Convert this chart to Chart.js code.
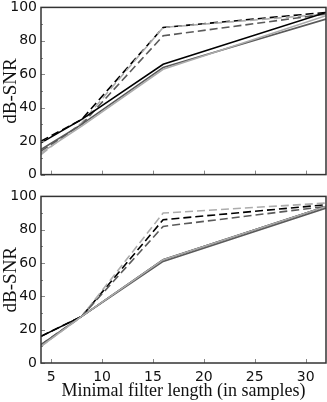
<!DOCTYPE html>
<html>
<head>
<meta charset="utf-8">
<script src="https://cdn.jsdelivr.net/npm/chart.js@4/dist/chart.umd.min.js"></script>
<style>
  html, body { margin: 0; padding: 0; background: #fff; }
  body { width: 327px; height: 402px; position: relative; overflow: hidden; }
  .box { position: absolute; left: 0; width: 327px; }
</style>
</head>
<body>
<div class="box" id="topBox" style="top:-5px;height:192px"><canvas id="topChart"></canvas></div>
<div class="box" id="botBox" style="top:184px;height:218px"><canvas id="botChart"></canvas></div>
<script>
// filter lengths (x)
var lengths = [4, 8, 16, 32];
var xTicks = [5, 10, 15, 20, 25, 30];
var yTicks = [0, 20, 40, 60, 80, 100];
var yMinor = [10, 30, 50, 70, 90];

// top panel
var topSolidBlack = [19, 33, 66, 97];
var topSolidDark  = [15, 30, 64, 93];
var topSolidLight = [13, 29, 63, 95];
var topDashBlack  = [20, 33, 88, 97];
var topDashDark   = [14, 30, 83, 96];
var topDashLight  = [12, 31, 88, 96];

// bottom panel
var botSolidBlack = [16, 28, 62, 94];
var botSolidDark  = [11, 28, 61, 93];
var botSolidLight = [10, 28, 62, 94];
var botDashBlack  = [16, 28, 86, 95];
var botDashDark   = [11, 28, 82, 94];
var botDashLight  = [10, 28, 90, 96];

var BLACK = '#000000', DARK = '#5a5a5a', LIGHT = '#acacac';

function pts(vals) {
  return vals.map(function (v, i) { return { x: lengths[i], y: v }; });
}

function line(vals, color, dashed) {
  return {
    data: pts(vals),
    borderColor: color,
    borderWidth: 1.6,
    borderDash: dashed ? [8, 4] : [],
    pointRadius: 0,
    fill: false,
    tension: 0
  };
}

// frame + inward tick marks
var framePlugin = {
  id: 'frame',
  afterDraw: function (chart) {
    var ctx = chart.ctx, a = chart.chartArea;
    var xs = chart.scales.x, ys = chart.scales.y;
    ctx.save();
    ctx.strokeStyle = '#888';
    ctx.lineWidth = 1;
    ctx.beginPath();
    xTicks.forEach(function (t) {
      var px = Math.round(xs.getPixelForValue(t)) + 0.5;
      ctx.moveTo(px, a.bottom); ctx.lineTo(px, a.bottom - 4);
    });
    yTicks.forEach(function (t) {
      var py = Math.round(ys.getPixelForValue(t)) + 0.5;
      ctx.moveTo(a.left, py); ctx.lineTo(a.left + 4, py);
    });
    yMinor.forEach(function (t) {
      var py = Math.round(ys.getPixelForValue(t)) + 0.5;
      ctx.moveTo(a.left, py); ctx.lineTo(a.left + 2, py);
    });
    ctx.stroke();
    ctx.strokeStyle = '#333';
    ctx.lineWidth = 1.5;
    ctx.strokeRect(a.left, a.top, a.right - a.left, a.bottom - a.top);
    ctx.restore();
  }
};

function makeChart(id, series, showX) {
  return new Chart(document.getElementById(id), {
    type: 'line',
    data: {
      datasets: [
        line(series[0], LIGHT, false),
        line(series[1], DARK, false),
        line(series[2], BLACK, false),
        line(series[3], DARK, true),
        line(series[4], LIGHT, true),
        line(series[5], BLACK, true)
      ]
    },
    plugins: [framePlugin],
    options: {
      responsive: true,
      maintainAspectRatio: false,
      animation: false,
      layout: { padding: { left: 0, right: 1, top: 0, bottom: 0 } },
      plugins: { legend: { display: false }, tooltip: { enabled: false } },
      scales: {
        x: {
          type: 'linear',
          min: 4,
          max: 32,
          display: showX,
          afterBuildTicks: function (s) { s.ticks = xTicks.map(function (v) { return { value: v }; }); },
          afterFit: function (s) { if (showX) s.height = 39; },
          grid: { display: false, drawTicks: false },
          border: { display: false },
          ticks: { padding: 6, color: '#111', font: { family: 'DejaVu Sans', size: 14 }, maxRotation: 0 },
          title: {
            display: true,
            text: 'Minimal filter length (in samples)',
            color: '#111',
            padding: 0,
            font: { family: 'Liberation Serif', size: 18 }
          }
        },
        y: {
          min: 0,
          max: 100,
          afterBuildTicks: function (s) { s.ticks = yTicks.map(function (v) { return { value: v }; }); },
          afterFit: function (s) { s.width = 41; },
          grid: { display: false, drawTicks: false },
          border: { display: false },
          ticks: { padding: 4, color: '#111', font: { family: 'DejaVu Sans', size: 14 } },
          title: {
            display: true,
            text: 'dB-SNR',
            color: '#111',
            padding: 0,
            font: { family: 'Liberation Serif', size: 19 }
          }
        }
      }
    }
  });
}

makeChart('topChart', [topSolidLight, topSolidDark, topSolidBlack, topDashDark, topDashLight, topDashBlack], false);
makeChart('botChart', [botSolidLight, botSolidDark, botSolidBlack, botDashDark, botDashLight, botDashBlack], true);
</script>
</body>
</html>
